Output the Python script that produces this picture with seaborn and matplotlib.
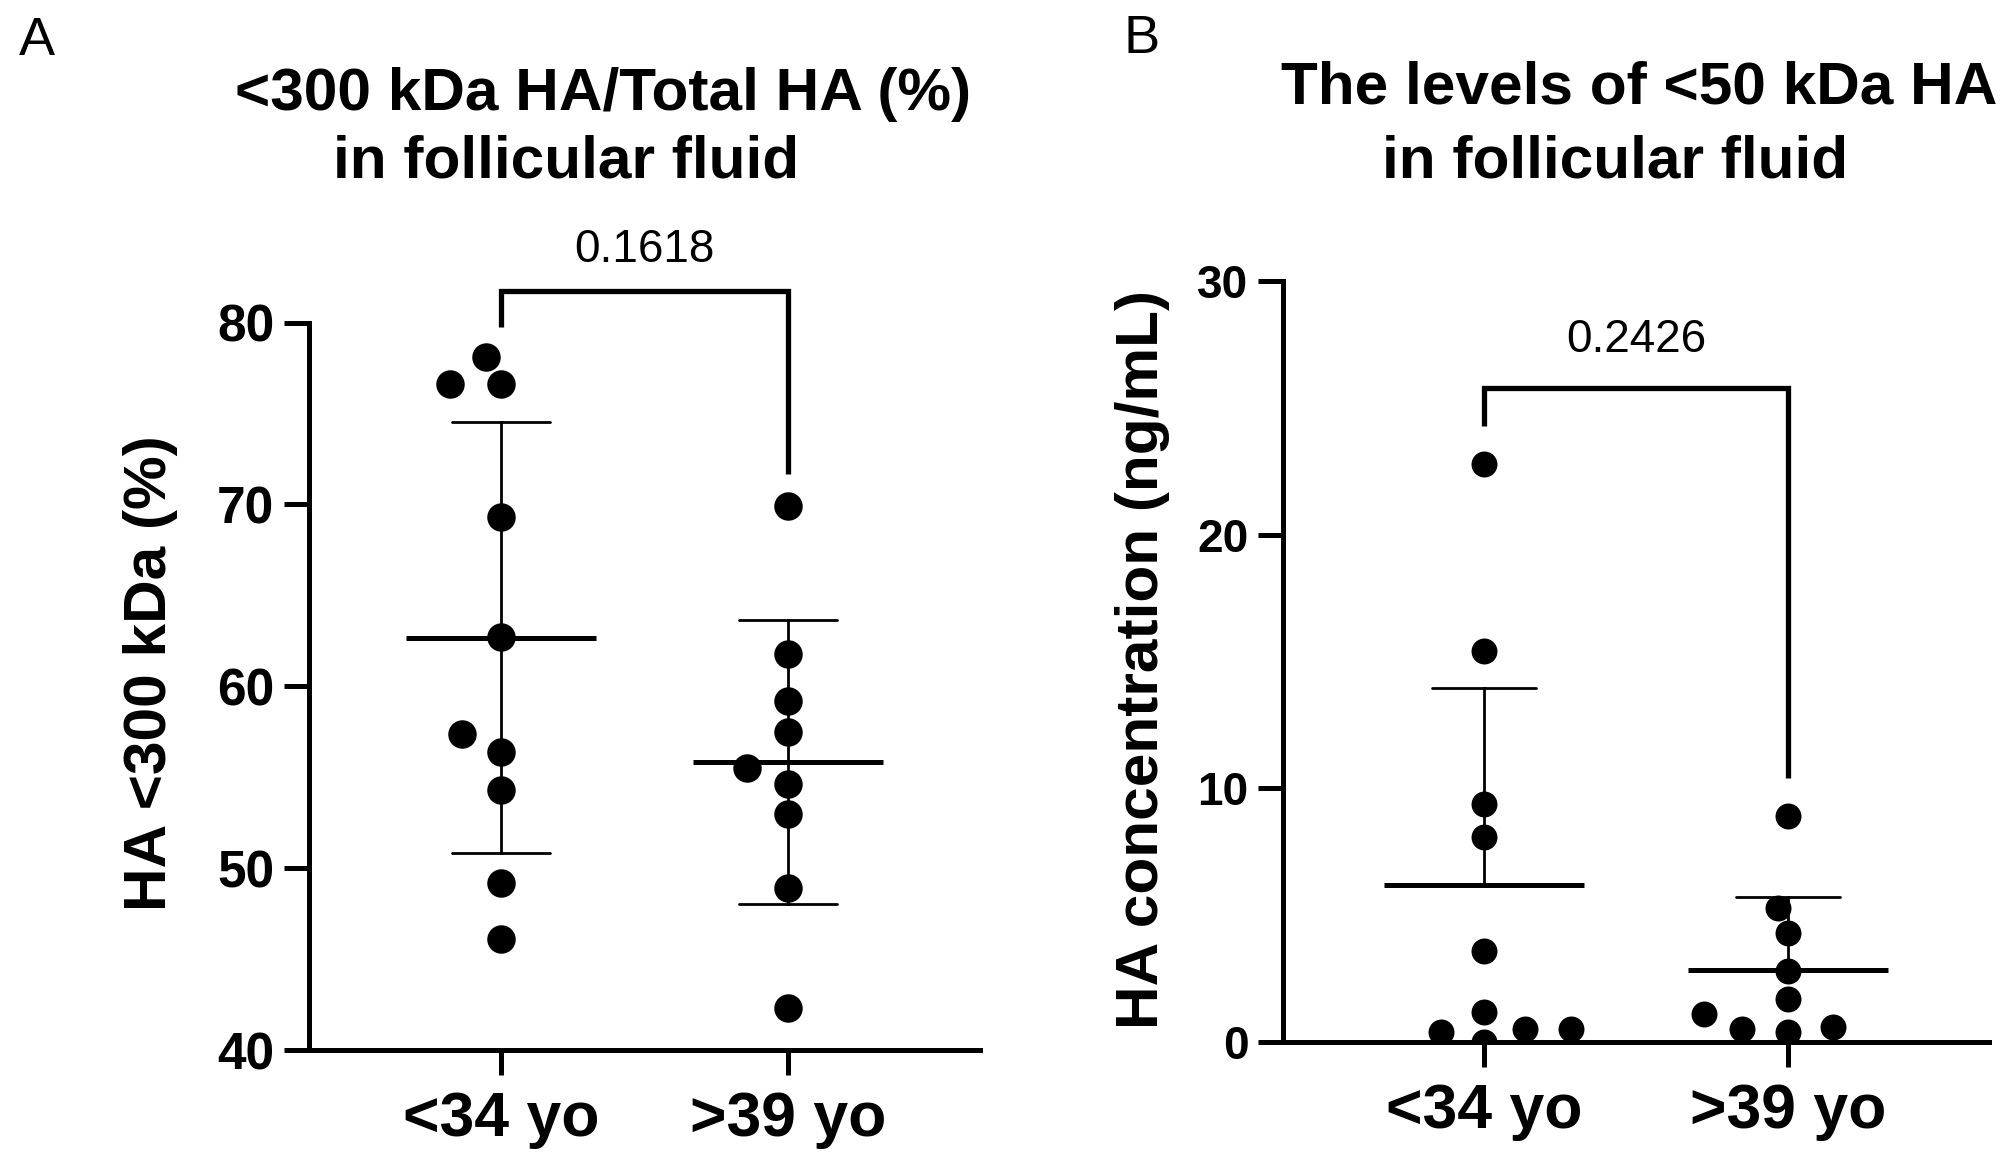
import numpy as np
import pandas as pd
import matplotlib
matplotlib.use("Agg")
import matplotlib.pyplot as plt
import seaborn as sns

# ---------------- data ----------------
groups = ["<34 yo", ">39 yo"]
a_young = [78.1, 76.6, 76.6, 69.3, 62.7, 57.4, 56.4, 54.3, 49.2, 46.1]
a_old = [69.9, 61.8, 59.2, 57.5, 55.5, 54.6, 53.0, 48.9, 42.3]
b_young = [22.8, 15.4, 9.4, 8.1, 3.6, 1.2, 0.0, 0.5, 0.4, 0.5]
b_old = [8.9, 5.3, 4.3, 2.8, 1.7, 0.4, 1.1, 0.5, 0.6]
a_yticks = [40, 50, 60, 70, 80]
b_yticks = [0, 10, 20, 30]
a_title = ["<300 kDa HA/Total HA (%)", "in follicular fluid"]
b_title = ["The levels of <50 kDa HA", "in follicular fluid"]
a_ylabel = "HA <300 kDa (%)"
b_ylabel = "HA concentration (ng/mL)"
a_p = "0.1618"
b_p = "0.2426"

# ---------------- style ----------------
sns.set_style("ticks")
plt.rcParams["font.family"] = ["Liberation Sans", "DejaVu Sans"]
plt.rcParams["font.weight"] = "bold"
plt.rcParams["axes.linewidth"] = 3.6
for key in ("text.color", "axes.labelcolor", "xtick.color", "ytick.color",
            "axes.edgecolor"):
    plt.rcParams[key] = "black"

W, H = 2013, 1152
fig = plt.figure(figsize=(W / 100, H / 100), dpi=100)


def fx(px):
    return px / W


def fy(py):
    return 1 - py / H


def make_df(young, old):
    return pd.DataFrame({
        "group": [groups[0]] * len(young) + [groups[1]] * len(old),
        "value": list(young) + list(old),
    })


def upper_sd(v):
    return (v.mean(), v.mean() + v.std())


def panel(ax, df, ylim, yticks, ytick_fs, dot_size, mean_ms, err, bracket_y, p_text, p_y, xlim):
    sns.swarmplot(data=df, x="group", y="value", order=groups, color="black",
                  size=dot_size, linewidth=0, zorder=3, ax=ax)
    sns.pointplot(data=df, x="group", y="value", order=groups, estimator="mean",
                  errorbar=err, capsize=0.34, color="black", markers="_",
                  linestyles="none", markersize=mean_ms, markeredgewidth=3.6,
                  err_kws={"linewidth": 2.0}, zorder=2, ax=ax)
    ax.set_ylim(*ylim)
    ax.set_yticks(yticks)
    ax.set_xlim(*xlim)
    ax.set_xlabel("")
    ax.set_ylabel("")
    sns.despine(ax=ax)
    for s in ("left", "bottom"):
        ax.spines[s].set_linewidth(3.6)
        ax.spines[s].set_color("black")
    ax.tick_params(axis="both", length=18, width=3.6, color="black", labelcolor="black")
    ax.tick_params(axis="y", labelsize=ytick_fs, pad=7)
    ax.tick_params(axis="x", labelsize=45, pad=11)
    for lbl in ax.get_xticklabels() + ax.get_yticklabels():
        lbl.set_fontweight("bold")
    ax.plot([0, 0, 1, 1], bracket_y, color="black", lw=3.8, clip_on=False,
            solid_joinstyle="miter", solid_capstyle="butt")
    ax.text(0.5, p_y, p_text, ha="center", va="baseline", fontsize=33,
            fontweight="normal", color="black")


axA = fig.add_axes([fx(309), fy(1050), (980 - 309) / W, (1050 - 322.5) / H])
axB = fig.add_axes([fx(1283), fy(1042), (1989 - 1283) / W, (1042 - 281) / H])

xlimA = (-0.667, 1.667)
xlimB = (-0.662, 1.662)
panel(axA, make_df(a_young, a_old), (40, 80), a_yticks, 37, 20.5, 137.5, "sd",
      [79.77, 81.73, 81.73, 71.67], a_p, 83.3, xlimA)
panel(axB, make_df(b_young, b_old), (0, 30), b_yticks, 33, 18.7, 144.7, upper_sd,
      [24.29, 25.8, 25.8, 10.41], b_p, 27.2, xlimB)

# Let seaborn's beeswarm lay out the points with a wider horizontal spacing
# (GraphPad-style spread): lay out on a horizontally compressed view, then freeze.
SPREAD = 1.7
for ax, xl in ((axA, xlimA), (axB, xlimB)):
    c = 0.5 * (xl[0] + xl[1])
    half = 0.5 * (xl[1] - xl[0]) * SPREAD
    ax.set_xlim(c - half, c + half)
fig.canvas.draw()
for ax, xl in ((axA, xlimA), (axB, xlimB)):
    for coll in ax.collections:
        if "draw" in coll.__dict__:
            del coll.draw
    ax.set_xlim(*xl)

# titles
fig.text(fx(602.7), fy(110), a_title[0], ha="center", va="baseline", fontsize=43.5, fontweight="bold")
fig.text(fx(566), fy(178), a_title[1], ha="center", va="baseline", fontsize=43.5, fontweight="bold")
fig.text(fx(1639.5), fy(103), b_title[0], ha="center", va="baseline", fontsize=43.5, fontweight="bold")
fig.text(fx(1615), fy(178), b_title[1], ha="center", va="baseline", fontsize=43.5, fontweight="bold")

# y labels
fig.text(fx(151), fy(673.6), a_ylabel, rotation=90, ha="center", va="center", fontsize=43.5, fontweight="bold")
fig.text(fx(1143), fy(659.5), b_ylabel, rotation=90, ha="center", va="center", fontsize=43.5, fontweight="bold")

# panel letters
fig.text(fx(19), fy(55), "A", ha="left", va="baseline", fontsize=39, fontweight="normal")
fig.text(fx(1123), fy(53), "B", ha="left", va="baseline", fontsize=39, fontweight="normal")

fig.savefig("out.png", dpi=100, facecolor="white")
